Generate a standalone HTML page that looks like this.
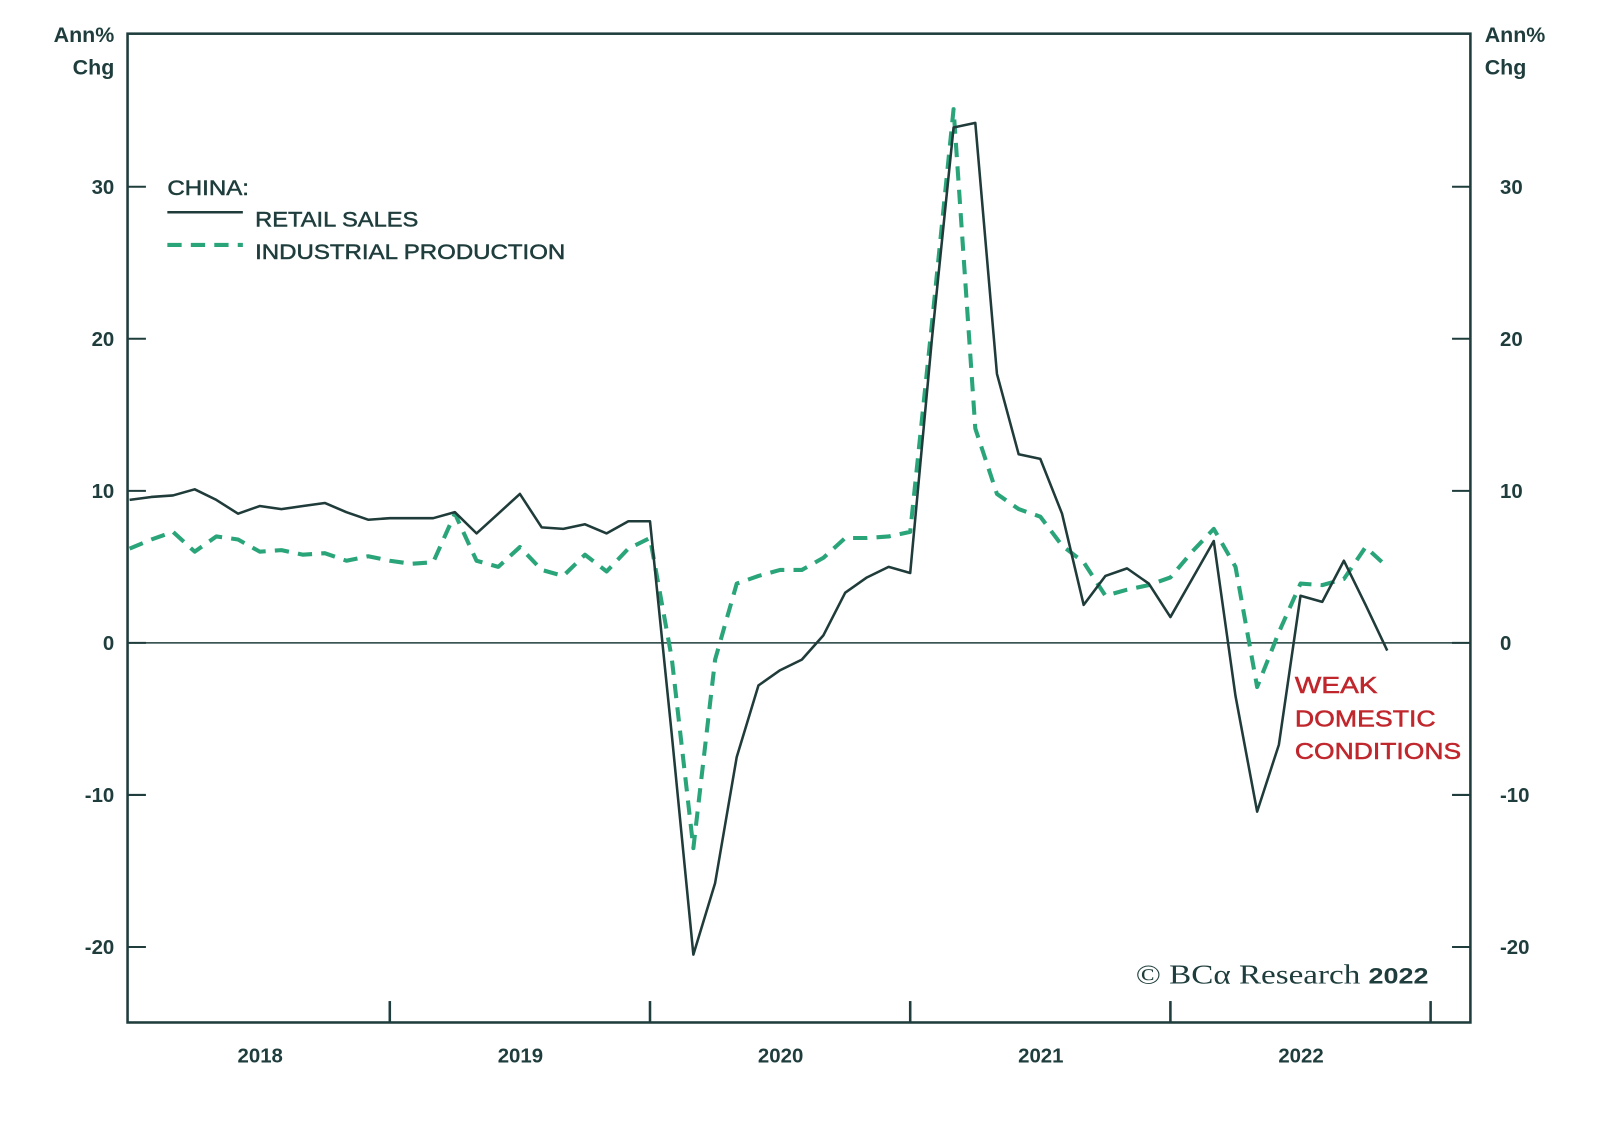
<!DOCTYPE html>
<html><head><meta charset="utf-8"><style>
body{margin:0;background:#fff}
svg{display:block}
text{font-family:"Liberation Sans",sans-serif;fill:#1e3d3c}
.med{stroke:#1e3d3c;stroke-width:0.5}
.red{fill:#c0272d;stroke:#c0272d;stroke-width:0.5}
</style></head><body>
<svg id="chart" width="1600" height="1123" viewBox="0 0 1568 1100.5" preserveAspectRatio="none" xmlns="http://www.w3.org/2000/svg">
<g id="axes"></g>
<g id="series"></g>
<g>
<text class="med" x="164" y="191" font-size="21" textLength="80" lengthAdjust="spacingAndGlyphs">CHINA:</text>
<line x1="164" y1="208" x2="238" y2="208" stroke="#1f3b3a" stroke-width="2.5"/>
<text class="med" x="250" y="222" font-size="21" textLength="160" lengthAdjust="spacingAndGlyphs">RETAIL SALES</text>
<line x1="164" y1="240" x2="238" y2="240" stroke="#2aa57a" stroke-width="4" stroke-dasharray="14,9"/>
<text class="med" x="250" y="254" font-size="21" textLength="304" lengthAdjust="spacingAndGlyphs">INDUSTRIAL PRODUCTION</text>
</g>
<g>
<text class="red" x="1269" y="679" font-size="23" textLength="81" lengthAdjust="spacingAndGlyphs">WEAK</text>
<text class="red" x="1269" y="712" font-size="23" textLength="138" lengthAdjust="spacingAndGlyphs">DOMESTIC</text>
<text class="red" x="1269" y="744" font-size="23" textLength="163" lengthAdjust="spacingAndGlyphs">CONDITIONS</text>
</g>
<text x="1113" y="964" font-size="27" textLength="287" lengthAdjust="spacingAndGlyphs" style="font-family:'Liberation Serif',serif">© BCα Research <tspan font-weight="bold" font-size="22" style="font-family:'Liberation Sans',sans-serif">2022</tspan></text>
</svg>
<script>
const yTicks=[30,20,10,0,-10,-20];
const years=["2018","2019","2020","2021","2022"];
const retail=[9.4,9.6,9.7,10.1,9.4,8.5,9.0,8.8,9.0,9.2,8.6,8.1,8.2,8.2,8.2,8.6,7.2,8.5,9.8,7.6,7.5,7.8,7.2,8.0,8.0,-6,-20.5,-15.8,-7.5,-2.8,-1.8,-1.1,0.5,3.3,4.3,5.0,4.6,20,33.9,34.2,17.7,12.4,12.1,8.5,2.5,4.4,4.9,3.9,1.7,4.2,6.7,-3.5,-11.1,-6.7,3.1,2.7,5.4,2.5,-0.5];
const indprod=[6.2,6.8,7.3,6.0,7.0,6.8,6.0,6.1,5.8,5.9,5.4,5.7,5.4,5.2,5.3,8.5,5.4,5.0,6.3,4.8,4.4,5.8,4.7,6.2,6.9,-1,-13.5,-1.1,3.9,4.4,4.8,4.8,5.6,6.9,6.9,7.0,7.3,21,35.1,14.1,9.8,8.8,8.3,6.4,5.3,3.1,3.5,3.8,4.3,6.0,7.5,5.0,-2.9,0.7,3.9,3.8,4.2,6.3,5.0];
const L=125,R=1441,T=33,B=1002;
const y=v=>630-v*14.9;
const x=i=>127+i*(255/12);
const NS="http://www.w3.org/2000/svg";
function mk(tag,attrs,parent,txt){const e=document.createElementNS(NS,tag);for(const k in attrs)e.setAttribute(k,attrs[k]);if(txt!==undefined)e.textContent=txt;parent.appendChild(e);return e;}
const ax=document.getElementById('axes');
let fr=mk('rect',{x:L,y:T,width:R-L,height:B-T,fill:'none',stroke:'#1e3d3c','stroke-width':2.5},ax);


let z=mk('line',{x1:L,x2:R,y1:y(0),y2:y(0),stroke:'#1e3d3c','stroke-width':1.5},ax);


yTicks.forEach(v=>{
 mk('line',{x1:L,x2:L+18,y1:y(v),y2:y(v),stroke:'#1e3d3c','stroke-width':2},ax);
 mk('line',{x1:R-18,x2:R,y1:y(v),y2:y(v),stroke:'#1e3d3c','stroke-width':2},ax);
 let t=mk('text',{x:112,y:y(v)+7,'text-anchor':'end','font-size':20,'font-weight':'bold'},ax,String(v));
 
 
 let t2=mk('text',{x:1470,y:y(v)+7,'font-size':20,'font-weight':'bold'},ax,String(v));
 
 
});
[["Ann%",34+7],["Chg",66+7]].forEach(([s,yy])=>{
 let a=mk('text',{x:112,y:yy,'text-anchor':'end','font-size':21,'font-weight':'bold'},ax,s);
 
 
 let b=mk('text',{x:1455,y:yy,'font-size':21,'font-weight':'bold'},ax,s);
 
 
});
years.forEach((s,i)=>{
 const x0=x(i*12);
 if(i>0)mk('line',{x1:x0,x2:x0,y1:B,y2:B-21,stroke:'#1e3d3c','stroke-width':2.5},ax);
 let t=mk('text',{x:x0+128,y:1041,'text-anchor':'middle','font-size':20,'font-weight':'bold'},ax,s);
 
 
});
mk('line',{x1:x(60),x2:x(60),y1:B,y2:B-21,stroke:'#1e3d3c','stroke-width':2.5},ax);
const sg=document.getElementById('series');
const pts=a=>a.map((v,i)=>x(i).toFixed(1)+','+y(v).toFixed(1)).join(' ');
let ip=mk('polyline',{points:pts(indprod),fill:'none',stroke:'#2aa57a','stroke-width':4,'stroke-dasharray':'14,9','stroke-linejoin':'round'},sg);


let rs=mk('polyline',{points:pts(retail),fill:'none',stroke:'#1f3b3a','stroke-width':2.5,'stroke-linejoin':'round'},sg);


</script>
</body></html>
